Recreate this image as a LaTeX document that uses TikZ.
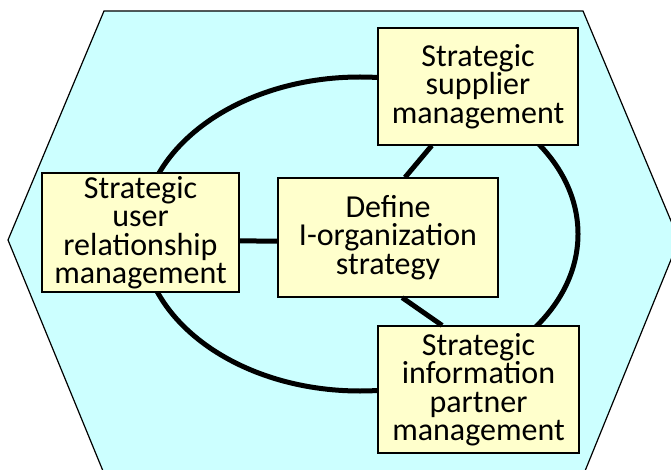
\documentclass[tikz,border=0pt]{standalone}
\usepackage{fontspec}
\setmainfont{Carlito}
\usetikzlibrary{calc}
\definecolor{hexcyan}{HTML}{CCFFFF}
\definecolor{boxyellow}{HTML}{FFFFCC}
\begin{document}
\begin{tikzpicture}[x=1pt,y=-1pt,
	box/.style={draw, fill=boxyellow, line width=1.2pt, align=center, inner sep=0pt,
		font=\fontsize{32}{28.5}\selectfont},
	link/.style={line width=5pt}]
	\useasboundingbox (0,0) rectangle (671,470);
	\clip (0,0) rectangle (671,470);
	\draw[fill=hexcyan, line width=1.2pt] (104,11) -- (583,11) -- (679,240) -- (585,471) -- (103,471) -- (8,240) -- cycle;
	\draw[link] (360,234) ellipse [x radius=218, y radius=157];
	\node (supplier) at (478,  86.5)	[box, minimum width=200, minimum height=117]	{Strategic\\supplier\\management};
	\node (user)     at (140.5,232.5)	[box, minimum width=197, minimum height=119]	{Strategic\\user\\relationship\\management};
	\node (strategy) at (388,  237.5)	[box, minimum width=220, minimum height=119]	{Define\\I-organization\\strategy};
	\node (partner)  at (478.5,389.5)	[box, minimum width=201, minimum height=127]	{Strategic\\information\\partner\\management};
	\draw[link] ($(user.north east)!0.57!(user.south east)$) -- ($(strategy.north west)!0.53!(strategy.south west)$);
	\draw[link] ($(strategy.north west)!0.577!(strategy.north east)$) -- ($(supplier.south west)!0.27!(supplier.south east)$);
	\draw[link] ($(strategy.south west)!0.564!(strategy.south east)$) -- ($(partner.north west)!0.32!(partner.north east)$);
\end{tikzpicture}
\end{document}
